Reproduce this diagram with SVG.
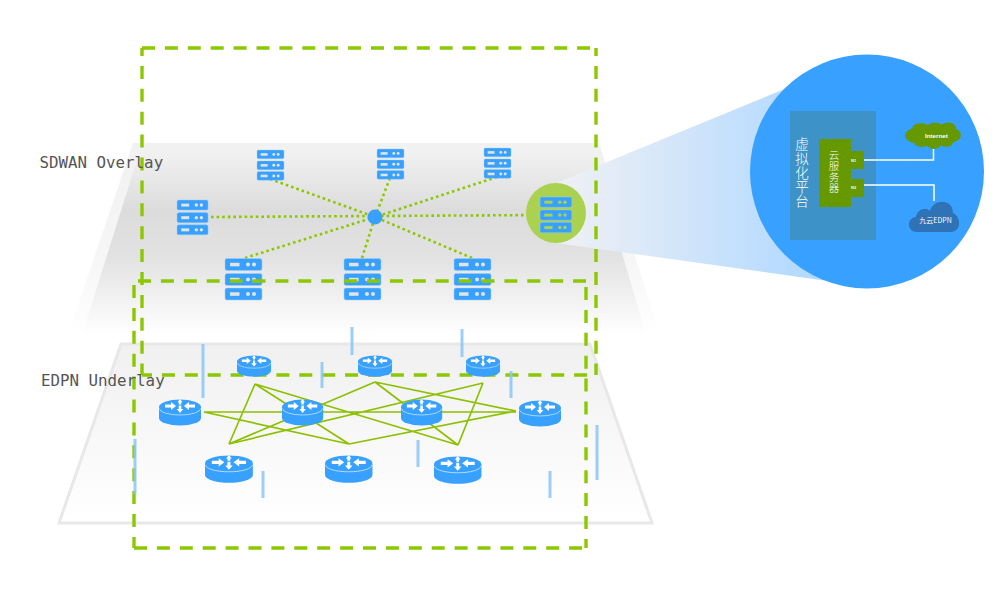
<svg xmlns="http://www.w3.org/2000/svg" width="1000" height="591" viewBox="0 0 1000 591">
<style>
.label{font-family:"DejaVu Sans Mono","Liberation Mono",monospace;font-size:15.8px;fill:#555}
.dash{fill:none;stroke:#8cc800;stroke-width:3.4;stroke-dasharray:13 9.900}
.dot{stroke:#8cc800;stroke-width:2.6;stroke-dasharray:2.6 3;fill:none}
.mesh{stroke:#8cc000;stroke-width:1.7;fill:none}
.bar{stroke:#8cc6f8;stroke-width:3;opacity:.85}
.cjk{font-family:"Noto Sans CJK SC",sans-serif;fill:#fff;font-weight:300}
.vert{writing-mode:vertical-rl}
.tiny{font-family:"Liberation Sans",sans-serif;fill:#fff;font-weight:bold}
.wire{stroke:#fff;stroke-width:1.5;fill:none}
</style>
<defs>
<linearGradient id="planeOuter" x1="0" y1="0" x2="0" y2="1"><stop offset="0" stop-color="#f1f1f1"/><stop offset=".6" stop-color="#f6f6f6"/><stop offset="1" stop-color="#fff"/></linearGradient>
<linearGradient id="planeInner" gradientUnits="userSpaceOnUse" x1="0" y1="143" x2="0" y2="335"><stop offset="0" stop-color="#f3f3f3"/><stop offset=".08" stop-color="#efefef"/><stop offset=".35" stop-color="#dcdcdc"/><stop offset=".6" stop-color="#e2e2e2"/><stop offset="1" stop-color="#fff"/></linearGradient>
<linearGradient id="planeLow" x1="0" y1="0" x2="0" y2="1"><stop offset="0" stop-color="#f0f0f0"/><stop offset="1" stop-color="#fff"/></linearGradient>
<linearGradient id="beam" gradientUnits="userSpaceOnUse" x1="575" y1="0" x2="800" y2="0"><stop offset="0" stop-color="#eceff5"/><stop offset="1" stop-color="#b4daff"/></linearGradient>
<g id="server">
<g fill="#38a1ff" stroke="#9ccdf6" stroke-width=".5"><rect x="0" y="0" width="37" height="12" rx="2"/><rect x="0" y="15" width="37" height="12" rx="2"/><rect x="0" y="29.500" width="37" height="12" rx="2"/></g>
<g fill="currentColor"><rect x="5" y="4.300" width="9.500" height="3.500"/><rect x="5" y="19.300" width="9.500" height="3.500"/><rect x="5" y="33.800" width="9.500" height="3.500"/>
<circle cx="23" cy="6" r="2"/><circle cx="29" cy="6" r="2"/><circle cx="23" cy="21" r="2"/><circle cx="29" cy="21" r="2"/><circle cx="23" cy="35.500" r="2"/><circle cx="29" cy="35.500" r="2"/></g>
</g>
<g id="router">
<path d="M0 7.500A21 7.500 0 0 1 42 7.500V18.500A21 7.500 0 0 1 0 18.500Z" fill="#38a1ff"/>
<path d="M.5 9A20.500 6.500 0 0 0 41.500 9" fill="none" stroke="#d6ecff" stroke-width=".7"/>
<g fill="#fff">
<path d="M6 5H12V2.500L17 6.500L12 10.500V8H6Z"/>
<path d="M36 5H30V2.500L25 6.500L30 10.500V8H36Z"/>
<path d="M21 -.5L23.500 2.800H22.200V5H19.800V2.800H18.500Z"/>
<path d="M19.700 6H22.300V9.500H24.300L21 13.500L17.700 9.500H19.700Z"/>
</g>
</g>
</defs>

<g id="plane-overlay">
<polygon points="133,143 599,143 660,335 68,335" fill="url(#planeOuter)"/>
<polygon points="141,147 591,147 646,335 82,335" fill="url(#planeInner)"/>
</g>
<g id="plane-underlay">
<polygon points="121,344 590,344 652,523 59,523" fill="url(#planeLow)" stroke="#e8e8e8" stroke-width="3"/>
</g>
<polygon id="zoom-beam" points="556,183 792,86 835,282 556,243" fill="url(#beam)"/>

<g id="connectors">
<g id="overlay-links">
<line class="dot" x1="270" y1="179" x2="375" y2="217"/>
<line class="dot" x1="390" y1="178" x2="375" y2="217"/>
<line class="dot" x1="497" y1="177" x2="375" y2="217"/>
<line class="dot" x1="211" y1="217" x2="375" y2="216"/>
<line class="dot" x1="546" y1="215" x2="375" y2="216"/>
<line class="dot" x1="245" y1="258" x2="375" y2="217"/>
<line class="dot" x1="362" y1="258" x2="375" y2="217"/>
<line class="dot" x1="472" y1="258" x2="375" y2="217"/>
</g>
<g id="underlay-links">
<path class="mesh" d="M255 384L229 444M255 384L349 444M255 384L458 445M204 412L349 444M204 412H516M229 444L375 382M229 444L483 383M349 444L516 411M375 382L458 445M375 382L516 411M483 383L458 445"/>
</g>
</g>

<g id="node-focus"><circle cx="556" cy="213" r="30" fill="#aad150"/></g>
<g id="server-1" color="#e3e3e3"><use href="#server" transform="translate(257 150) scale(.73)"/></g>
<g id="server-2" color="#e3e3e3"><use href="#server" transform="translate(377 149) scale(.73)"/></g>
<g id="server-3" color="#e3e3e3"><use href="#server" transform="translate(484 148) scale(.73)"/></g>
<g id="server-4" color="#e3e3e3"><use href="#server" transform="translate(177 200) scale(.84)"/></g>
<g id="server-5" color="#e3e3e3"><use href="#server" transform="translate(225 258.500)"/></g>
<g id="server-6" color="#e3e3e3"><use href="#server" transform="translate(344 258.500)"/></g>
<g id="server-7" color="#e3e3e3"><use href="#server" transform="translate(454 258.500)"/></g>
<g id="server-8" color="#aad150"><use href="#server" transform="translate(540 197) scale(.86)"/></g>
<g id="hub"><circle cx="375" cy="217" r="7.500" fill="#38a1ff"/></g>

<g id="region-boxes">
<g id="box-overlay">
<line class="dash" x1="142" y1="48" x2="596" y2="48"/>
<line class="dash" x1="142" y1="48" x2="142" y2="375" stroke-dashoffset="5"/>
<line class="dash" x1="596" y1="48" x2="596" y2="375" stroke-dashoffset="5"/>
<line class="dash" x1="142" y1="375" x2="596" y2="375" stroke-dashoffset="3"/>
</g>
<g id="box-underlay">
<line class="dash" x1="138" y1="281" x2="586" y2="281"/>
<line class="dash" x1="134" y1="285" x2="134" y2="548"/>
<line class="dash" x1="586" y1="287" x2="586" y2="548"/>
<line class="dash" x1="134" y1="548" x2="586" y2="548"/>
</g>
</g>

<g id="bars">
<line class="bar" x1="203" y1="344" x2="203" y2="398"/>
<line class="bar" x1="322" y1="362" x2="322" y2="388"/>
<line class="bar" x1="352" y1="327" x2="352" y2="355"/>
<line class="bar" x1="462" y1="329" x2="462" y2="357"/>
<line class="bar" x1="511" y1="371" x2="511" y2="398"/>
<line class="bar" x1="135" y1="439" x2="135" y2="494"/>
<line class="bar" x1="263" y1="471" x2="263" y2="498"/>
<line class="bar" x1="418" y1="440" x2="418" y2="467"/>
<line class="bar" x1="597" y1="425" x2="597" y2="480"/>
<line class="bar" x1="550" y1="471" x2="550" y2="498"/>
</g>

<g id="router-1"><use href="#router" transform="translate(237 355.500) scale(.81 .82)"/></g>
<g id="router-2"><use href="#router" transform="translate(358 355.500) scale(.81 .82)"/></g>
<g id="router-3"><use href="#router" transform="translate(466 355.500) scale(.81 .82)"/></g>
<g id="router-4"><use href="#router" transform="translate(159 399.500)"/></g>
<g id="router-5"><use href="#router" transform="translate(282 399.500) scale(.98 1)"/></g>
<g id="router-6"><use href="#router" transform="translate(401 399.500) scale(.98 1)"/></g>
<g id="router-7"><use href="#router" transform="translate(519 400.500)"/></g>
<g id="router-8"><use href="#router" transform="translate(205 455.500) scale(1.14 1.05)"/></g>
<g id="router-9"><use href="#router" transform="translate(325 455.500) scale(1.13 1.05)"/></g>
<g id="router-10"><use href="#router" transform="translate(434 456.500) scale(1.13 1.05)"/></g>

<g id="label-overlay"><text class="label" x="39.500" y="168">SDWAN Overlay</text></g>
<g id="label-underlay"><text class="label" x="41" y="386">EDPN Underlay</text></g>

<g id="detail-lens"><circle cx="867" cy="171.500" r="117" fill="#38a1ff"/></g>
<g id="platform">
<rect x="790" y="111" width="86" height="129" fill="#3d93c8"/>
<text class="cjk vert" font-size="13.500" letter-spacing=".7" x="802" y="137.500">虚拟化平台</text>
</g>
<g id="cloud-server">
<path d="M819 139H851V151H864V169H851V179H864V197H851V207H819Z" fill="#669900"/>
<text class="cjk vert" font-size="10.500" letter-spacing=".5" x="834" y="149.500">云服务器</text>
<text class="tiny" font-size="4" x="851" y="161.500">N1</text>
<text class="tiny" font-size="4" x="851" y="189">N2</text>
</g>
<g id="wires">
<path class="wire" d="M864 160H933.500V149"/>
<path class="wire" d="M864 185H934V201"/>
</g>
<g id="cloud-internet">
<g fill="#669900"><ellipse cx="933" cy="136" rx="23" ry="9.500"/><ellipse cx="916" cy="135.500" rx="11" ry="7.500"/><ellipse cx="950" cy="135" rx="11" ry="7.500"/><ellipse cx="921" cy="129" rx="9" ry="6"/><ellipse cx="935" cy="128" rx="8" ry="5.500"/><ellipse cx="948" cy="128" rx="8" ry="5.500"/><ellipse cx="922" cy="142" rx="8" ry="5"/><ellipse cx="934" cy="144" rx="7" ry="5"/><ellipse cx="946" cy="142" rx="7" ry="5"/></g>
<text class="tiny" font-size="6.200" x="925" y="138">Internet</text>
</g>
<g id="cloud-edpn">
<path d="M917 232C907 232 906 218 916 217C917 209 926 207 930 211C933 199 953 198 953 213C962 217 961 232 951 232Z" fill="#2f72b5"/>
<text class="cjk" font-size="7" x="935.500" y="223" text-anchor="middle" style="font-weight:400">九云EDPN</text>
</g>
</svg>
